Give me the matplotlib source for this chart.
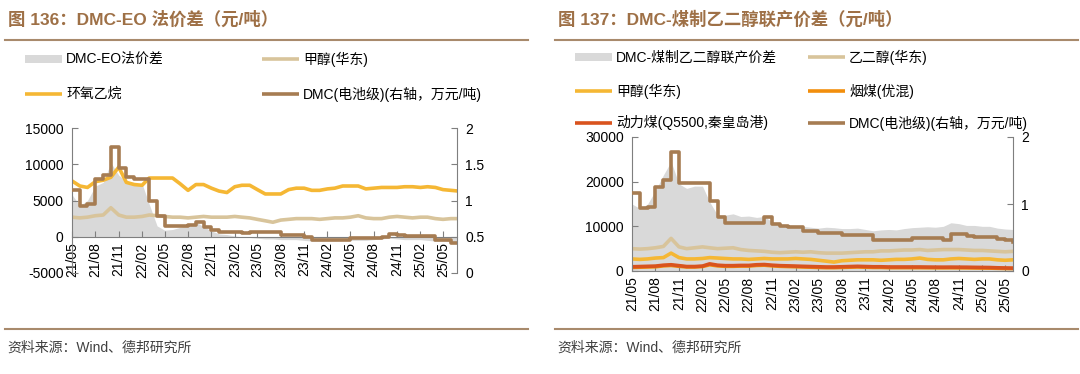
import matplotlib
matplotlib.use("Agg")
import matplotlib.pyplot as plt
import matplotlib.dates as mdates
from matplotlib.lines import Line2D
from matplotlib.patches import Rectangle
import pandas as pd

plt.rcParams["font.family"] = ["Liberation Sans", "Noto Sans CJK SC"]
plt.rcParams["axes.unicode_minus"] = False

W, H = 1080, 374

# monthly data, 2021-05 onwards
LEFT_DATES = pd.date_range("2021-05-01", periods=51, freq="MS")
RIGHT_DATES = pd.date_range("2021-05-01", periods=50, freq="MS")

# 图136
SPREAD_EO = [5800, 4300, 5000, 7000, 7500, 10200, 8500, 7600, 7200, 7300,
             4500, 1500, 900, 1000, 1300, 1600, 2000, 1400, 800, 400,
             300, 100, 0, -100, -200, -300, -300, -400, -400, -400,
             -500, -600, -600, -600, -600, -500, -500, -500, -500, -400,
             -300, -200, -300, -400, -400, -400, -500, -600, -600, -700, -700]
EO = [7700, 7000, 6800, 7600, 7800, 8200, 9600, 7500, 7200, 7100,
      8100, 8100, 8100, 8100, 7300, 6400, 7200, 7200, 6700, 6300,
      6100, 6900, 7100, 7100, 6500, 5900, 5900, 5900, 6500, 6700,
      6700, 6400, 6400, 6600, 6700, 7000, 7000, 7000, 6600, 6700,
      6800, 6800, 6800, 6900, 6900, 6800, 6900, 6800, 6500, 6400, 6300]
METHANOL = [2700, 2600, 2700, 2900, 3000, 4000, 3000, 2700, 2700, 2800,
            3000, 2900, 2800, 2700, 2700, 2600, 2700, 2800, 2700, 2700,
            2700, 2800, 2700, 2600, 2400, 2200, 2000, 2300, 2400, 2500,
            2500, 2500, 2400, 2500, 2600, 2600, 2700, 2900, 2600, 2500,
            2500, 2700, 2800, 2700, 2600, 2700, 2700, 2500, 2400, 2500, 2500]
DMC_LEFT = [1.15, 0.92, 0.95, 1.30, 1.35, 1.74, 1.45, 1.32, 1.30, 1.30,
            1.00, 0.78, 0.65, 0.65, 0.65, 0.66, 0.70, 0.64, 0.60, 0.57,
            0.56, 0.56, 0.55, 0.57, 0.56, 0.56, 0.57, 0.53, 0.53, 0.53,
            0.50, 0.46, 0.46, 0.46, 0.46, 0.46, 0.48, 0.48, 0.48, 0.48,
            0.50, 0.54, 0.53, 0.51, 0.51, 0.51, 0.51, 0.46, 0.46, 0.42, 0.42]

# 图137
SPREAD_EG = [15000, 14000, 15000, 18000, 21500, 24500, 19500, 18500, 19000, 19000,
             15500, 12500, 12500, 12800, 12200, 12300, 12000, 12200, 11000, 10500,
             10300, 10200, 10000, 9800, 9600, 9800, 9700, 9500, 9500, 9600,
             9300, 9000, 9200, 9300, 9200, 9500, 9700, 9800, 9900, 9800,
             10000, 10800, 10600, 10200, 10200, 10000, 10000, 9600, 9400, 9300]
EG = [5000, 4900, 5000, 5200, 5500, 7300, 5400, 5000, 5200, 5400,
      5200, 5000, 5100, 5200, 4800, 4600, 4500, 4400, 4200, 4100,
      4200, 4300, 4200, 4300, 4100, 4000, 4000, 4000, 4100, 4200,
      4300, 4300, 4500, 4500, 4600, 4700, 4700, 4800, 4600, 4700,
      4800, 4800, 4800, 4700, 4600, 4600, 4500, 4400, 4300, 4400]
BITUMINOUS = [800, 850, 900, 950, 1150, 1250, 1050, 900, 900, 1000,
              1400, 1150, 1050, 1050, 1100, 1100, 1250, 1300, 1150, 1050,
              1000, 950, 900, 850, 800, 750, 750, 800, 850, 900,
              850, 800, 800, 750, 750, 750, 750, 750, 730, 720,
              710, 720, 710, 700, 680, 660, 640, 600, 560, 540]
THERMAL_COAL = [950, 1000, 1050, 1100, 1300, 1400, 1200, 1000, 1000, 1100,
                1600, 1300, 1200, 1200, 1250, 1250, 1400, 1450, 1300, 1200,
                1150, 1100, 1050, 1000, 950, 900, 900, 950, 1000, 1050,
                1000, 950, 950, 900, 900, 900, 900, 900, 880, 870,
                860, 870, 860, 850, 820, 800, 780, 720, 680, 650]
DMC_RIGHT = [1.17, 0.94, 0.96, 1.25, 1.36, 1.77, 1.32, 1.32, 1.32, 1.32,
             1.05, 0.80, 0.72, 0.72, 0.72, 0.72, 0.72, 0.80, 0.70, 0.67,
             0.66, 0.66, 0.60, 0.59, 0.56, 0.56, 0.57, 0.54, 0.54, 0.54,
             0.54, 0.47, 0.47, 0.47, 0.47, 0.47, 0.50, 0.50, 0.50, 0.50,
             0.47, 0.55, 0.55, 0.52, 0.51, 0.51, 0.51, 0.48, 0.47, 0.43]

GRAY = "#d9d9d9"
BEIGE = "#d8c49b"
YELLOW = "#f5b734"
ORANGE = "#f28e0c"
RED = "#d9531e"
BROWN = "#a67c52"
TITLE_C = "#9e7046"
RULE_C = "#a88a6c"
AXIS_C = "#7f7f7f"


def fx(px):
    return px / W


def fy(py):
    return 1 - py / H


def add_axes_px(fig, left, top, right, bottom):
    return fig.add_axes([fx(left), fy(bottom), (right - left) / W, (bottom - top) / H])


def legend_entry(fig, x, y, label, color, bar=False):
    if bar:
        fig.add_artist(Rectangle((fx(x), fy(y + 4)), 37 / W, 8 / H, transform=fig.transFigure,
                                 facecolor=color, edgecolor="none"))
    else:
        fig.add_artist(Line2D([fx(x), fx(x + 37)], [fy(y), fy(y)], transform=fig.transFigure,
                              color=color, lw=2.6, solid_capstyle="butt"))
    fig.text(fx(x + 41), fy(y), label, fontsize=10, va="center", ha="left", color="#000000")


def header(fig, x0, x1, title):
    fig.text(fx(x0 + 3), fy(19), title, fontsize=12.5, fontweight="bold", color=TITLE_C,
             va="center", ha="left")
    fig.add_artist(Line2D([fx(x0), fx(x1)], [fy(40), fy(40)], transform=fig.transFigure,
                          color=RULE_C, lw=1.5))
    fig.add_artist(Line2D([fx(x0), fx(x1)], [fy(329), fy(329)], transform=fig.transFigure,
                          color=RULE_C, lw=1.5))
    fig.text(fx(x0 + 2), fy(348), "资料来源：Wind、德邦研究所", fontsize=10, color="#404040",
             va="center", ha="left")


def style_axes(ax, ax2):
    for a in (ax, ax2):
        a.spines["top"].set_visible(False)
        a.patch.set_visible(False)
    ax.spines["right"].set_visible(False)
    ax2.spines["left"].set_visible(False)
    ax2.spines["bottom"].set_visible(False)
    for s in ("left", "bottom"):
        ax.spines[s].set_color(AXIS_C)
        ax.spines[s].set_linewidth(0.8)
    ax2.spines["right"].set_color(AXIS_C)
    ax2.spines["right"].set_linewidth(0.8)
    ax.tick_params(axis="y", direction="in", length=4, color=AXIS_C, labelsize=10, pad=6)
    ax2.tick_params(axis="y", direction="in", length=4, color=AXIS_C, labelsize=10, pad=6)
    ax.tick_params(axis="x", direction="in", length=4, color=AXIS_C, labelsize=10, pad=4,
                   labelrotation=90)
    ax.xaxis.set_major_locator(mdates.MonthLocator(bymonth=[2, 5, 8, 11]))
    ax.xaxis.set_major_formatter(mdates.DateFormatter("%y/%m"))


fig = plt.figure(figsize=(W / 100, H / 100), dpi=100, facecolor="white")

# ---- 图136 ----
header(fig, 5, 528, "图 136：DMC-EO 法价差（元/吨）")
legend_entry(fig, 25, 59, "DMC-EO法价差", GRAY, bar=True)
legend_entry(fig, 262, 59, "甲醇(华东)", BEIGE)
legend_entry(fig, 25, 94, "环氧乙烷", YELLOW)
legend_entry(fig, 262, 94, "DMC(电池级)(右轴，万元/吨)", BROWN)

ax = add_axes_px(fig, 72, 128, 457, 273)
ax.fill_between(LEFT_DATES, 0, SPREAD_EO, color=GRAY, lw=0)
ax.plot(LEFT_DATES, METHANOL, color=BEIGE, lw=2.6)
ax.plot(LEFT_DATES, EO, color=YELLOW, lw=2.6)
ax.set_ylim(-5000, 15000)
ax.set_yticks([-5000, 0, 5000, 10000, 15000])
ax.set_xlim(LEFT_DATES[0], pd.Timestamp("2025-06-25"))
ax.spines["bottom"].set_position(("data", 0))
ax2 = ax.twinx()
ax2.plot(LEFT_DATES, DMC_LEFT, color=BROWN, lw=2.6, drawstyle="steps-post")
ax2.set_ylim(0, 2)
ax2.set_yticks([0, 0.5, 1, 1.5, 2])
ax2.set_yticklabels(["0", "0.5", "1", "1.5", "2"])
style_axes(ax, ax2)

# ---- 图137 ----
header(fig, 555, 1078, "图 137：DMC-煤制乙二醇联产价差（元/吨）")
legend_entry(fig, 575, 57, "DMC-煤制乙二醇联产价差", GRAY, bar=True)
legend_entry(fig, 808, 57, "乙二醇(华东)", BEIGE)
legend_entry(fig, 575, 91, "甲醇(华东)", YELLOW)
legend_entry(fig, 808, 91, "烟煤(优混)", ORANGE)
legend_entry(fig, 575, 123, "动力煤(Q5500,秦皇岛港)", RED)
legend_entry(fig, 808, 123, "DMC(电池级)(右轴，万元/吨)", BROWN)

bx = add_axes_px(fig, 632, 137, 1013, 271)
bx.fill_between(RIGHT_DATES, 0, SPREAD_EG, color=GRAY, lw=0)
bx.plot(RIGHT_DATES, EG, color=BEIGE, lw=2.6)
bx.plot(RIGHT_DATES, METHANOL[:len(RIGHT_DATES)], color=YELLOW, lw=2.6)
bx.plot(RIGHT_DATES, BITUMINOUS, color=ORANGE, lw=2.6)
bx.plot(RIGHT_DATES, THERMAL_COAL, color=RED, lw=2.6)
bx.set_ylim(0, 30000)
bx.set_yticks([0, 10000, 20000, 30000])
bx.set_xlim(RIGHT_DATES[0], RIGHT_DATES[-1])
bx2 = bx.twinx()
bx2.plot(RIGHT_DATES, DMC_RIGHT, color=BROWN, lw=2.6, drawstyle="steps-post")
bx2.set_ylim(0, 2)
bx2.set_yticks([0, 1, 2])
style_axes(bx, bx2)

fig.savefig("out.png", dpi=100, facecolor="white")
